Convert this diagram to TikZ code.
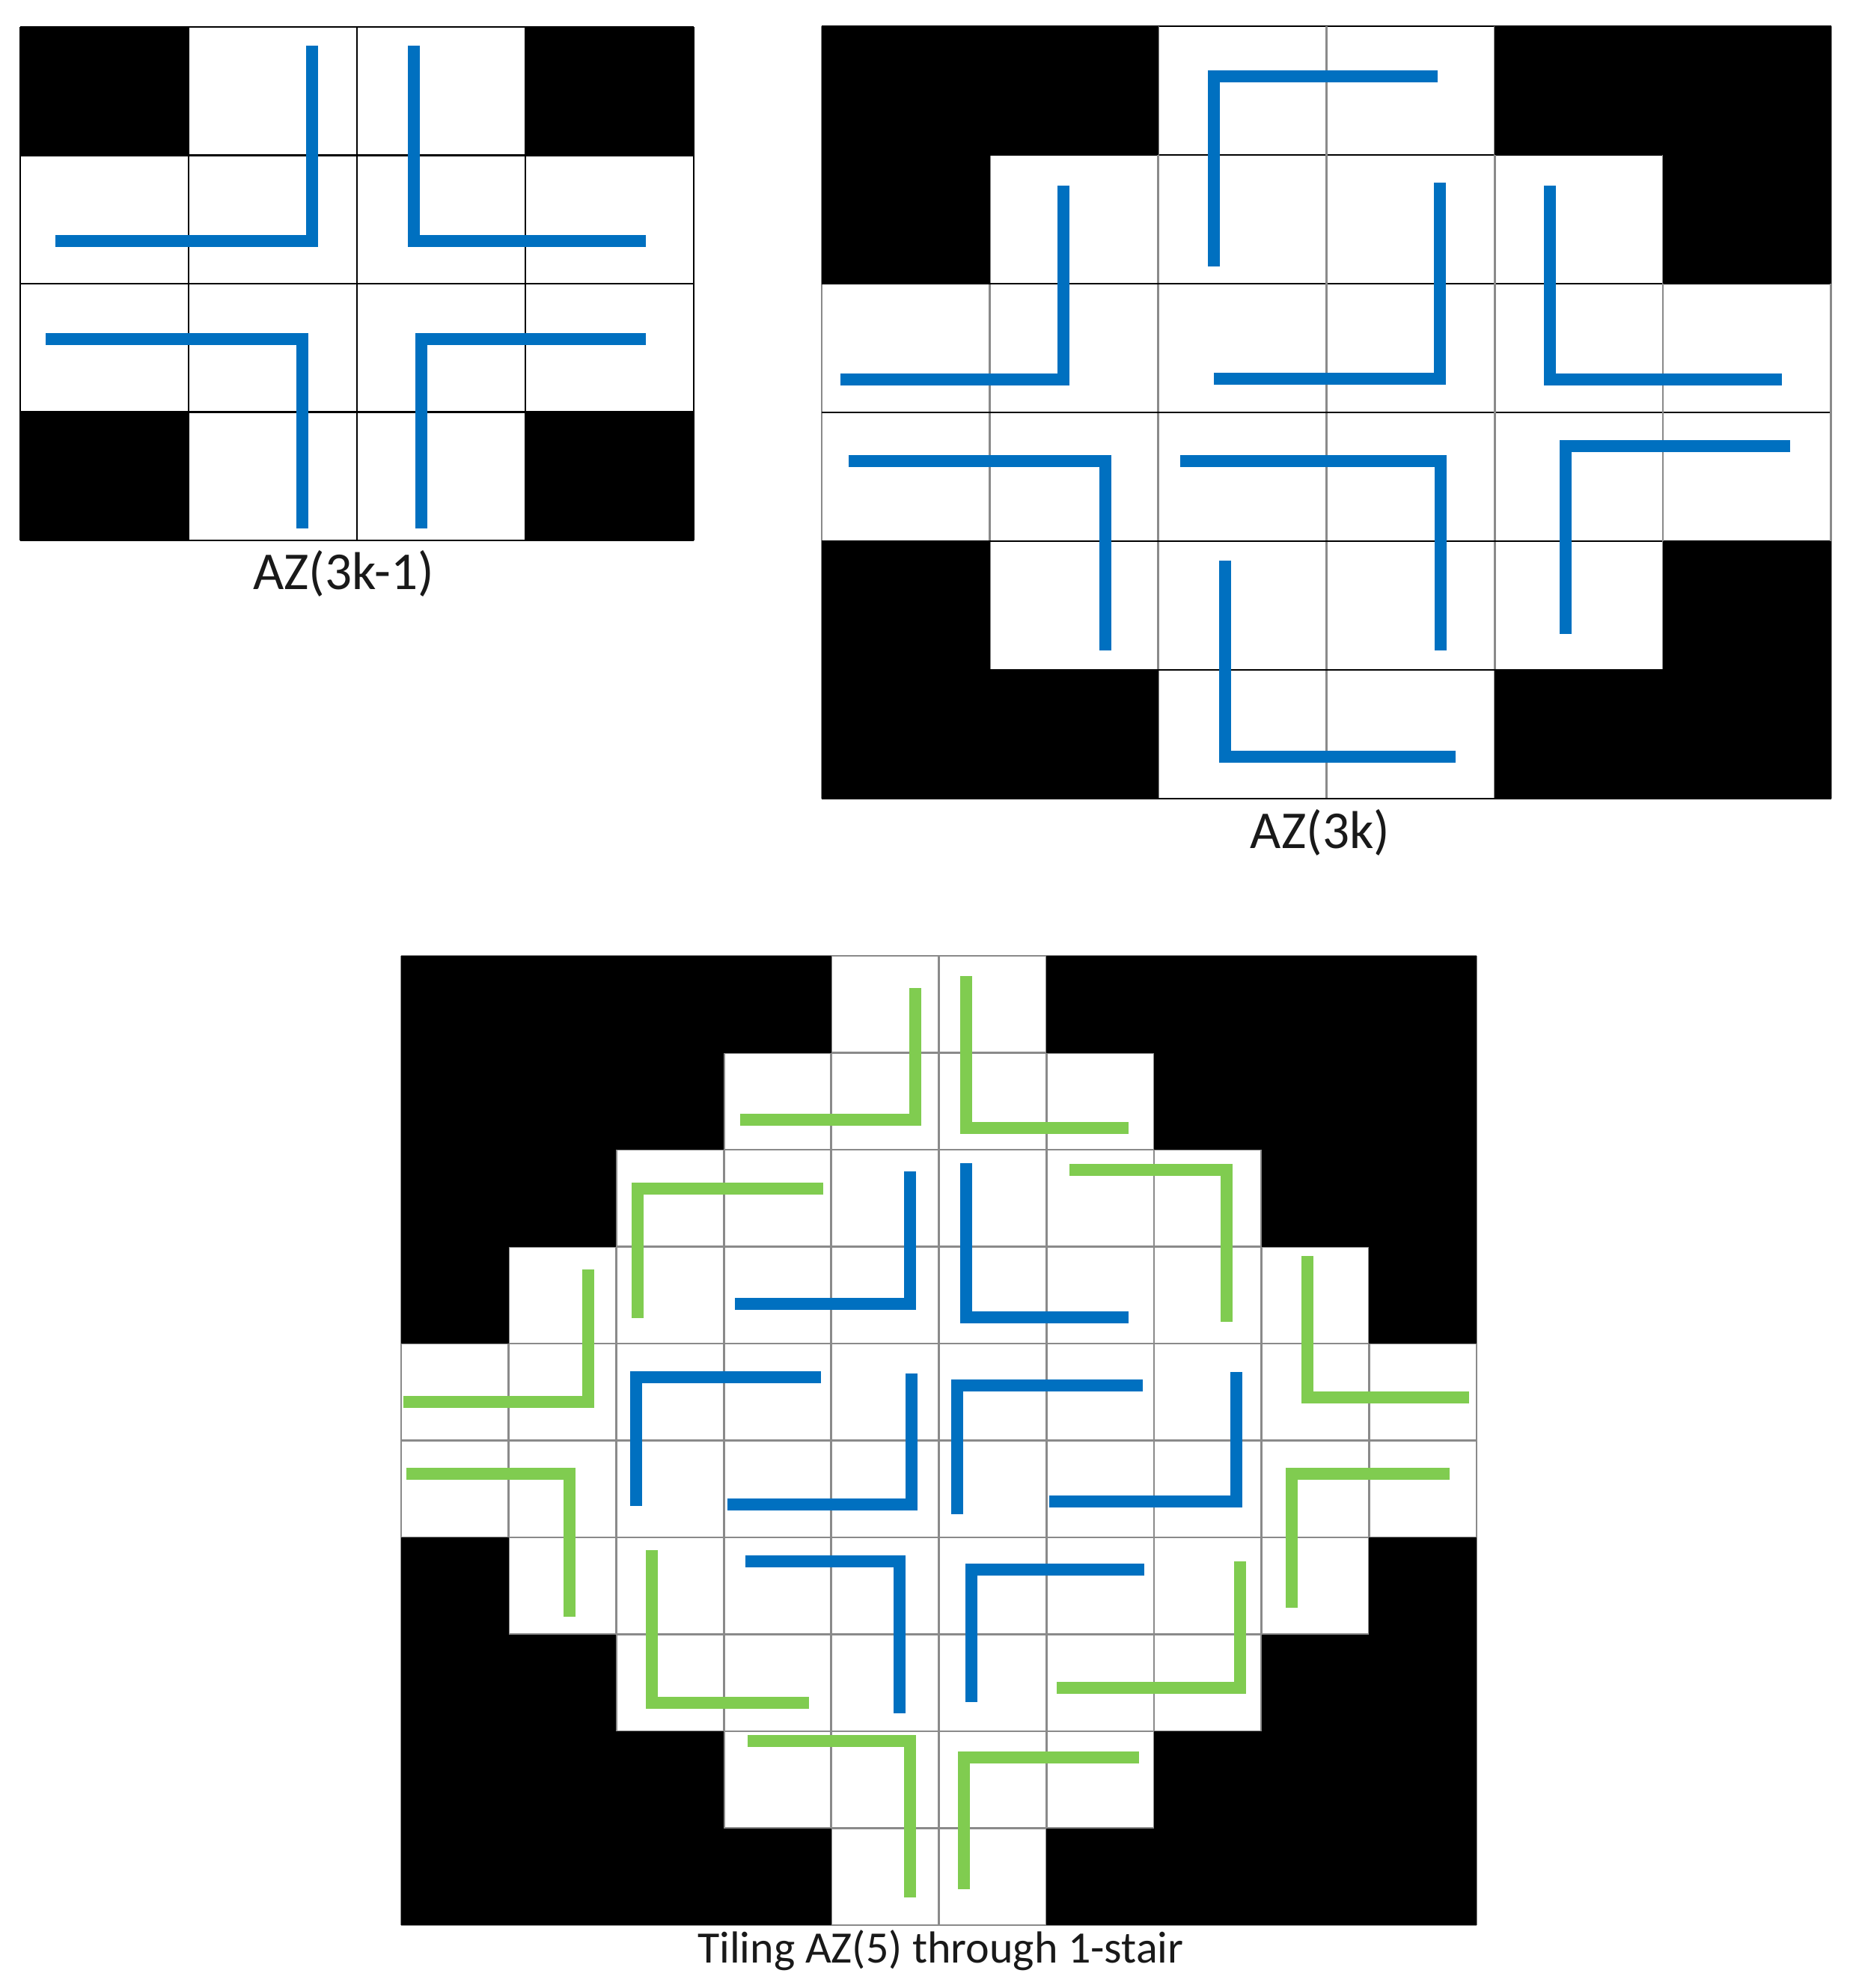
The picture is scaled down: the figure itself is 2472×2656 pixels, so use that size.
\documentclass[tikz,border=0pt]{standalone}
\usepackage{fontspec}
\setmainfont{Carlito}
\definecolor{tblue}{HTML}{0070C0}
\definecolor{tgreen}{HTML}{80CC50}
\definecolor{gline}{HTML}{8A8A8A}
\begin{document}
\begin{tikzpicture}[x=0.25pt,y=-0.25pt,
  gridk/.style={line width=0.7pt,black},
  gridg/.style={line width=0.7pt,gline},
  bluepath/.style={line width=4.2pt,tblue,line join=miter,line cap=butt},
  greenpath/.style={line width=3.8pt,tgreen,line join=miter,line cap=butt},
  caption/.style={inner sep=0pt,text=black!90}]
\useasboundingbox (0,0) rectangle (2472,2656);
\fill[white] (0,0) rectangle (2472,2656);

% ---------- top-left grid AZ(3k-1) ----------
\foreach \i in {0,...,4} {
  \draw[gridk] ({27+225*\i},36) -- ({27+225*\i},722);
  \draw[gridk] (27,{36+171.5*\i}) -- (927,{36+171.5*\i});
}
\foreach \c/\r in {0/0,3/0,0/3,3/3}
  \fill[black] ({27+225*\c},{36+171.5*\r}) rectangle ({27+225*(\c+1)},{36+171.5*(\r+1)});

\draw[bluepath] (74,322) -- (417,322) -- (417,61);
\draw[bluepath] (553,61) -- (553,322) -- (863,322);
\draw[bluepath] (61,453) -- (404,453) -- (404,706);
\draw[bluepath] (863,453) -- (563,453) -- (563,706);
\node[caption,font=\fontsize{17.8}{20}\selectfont] (capA) at (459,766) {AZ(3k-1)};

% ---------- top-right grid AZ(3k) ----------
\foreach \i in {0,...,6} {
  \draw[gridg] ({1098+224.8*\i},35) -- ({1098+224.8*\i},1067);
  \draw[gridk] (1098,{35+172*\i}) -- (2447,{35+172*\i});
}
\foreach \c/\r in {0/0,1/0,4/0,5/0,0/1,5/1,0/4,5/4,0/5,1/5,4/5,5/5}
  \fill[black] ({1098+224.8*\c},{35+172*\r}) rectangle ({1098+224.8*(\c+1)},{35+172*(\r+1)});

\draw[bluepath] (1921,102) -- (1622,102) -- (1622,356);
\draw[bluepath] (1421,248) -- (1421,507) -- (1123,507);
\draw[bluepath] (1924,244) -- (1924,506) -- (1622,506);
\draw[bluepath] (2071,248) -- (2071,507) -- (2381,507);
\draw[bluepath] (1134,616) -- (1477,616) -- (1477,869);
\draw[bluepath] (1577,616) -- (1925,616) -- (1925,869);
\draw[bluepath] (2392,596) -- (2092,596) -- (2092,847);
\draw[bluepath] (1637,749) -- (1637,1011) -- (1945,1011);
\node[caption,font=\fontsize{17.8}{20}\selectfont] (capB) at (1764,1112) {AZ(3k)};

% ---------- bottom grid AZ(5) ----------
\foreach \i in {0,...,10} {
  \draw[gridg] ({536+143.7*\i},1277) -- ({536+143.7*\i},2572);
  \draw[gridg] (536,{1277+129.5*\i}) -- (1973,{1277+129.5*\i});
}
\foreach \r/\a in {0/4,1/3,2/2,3/1,6/1,7/2,8/3,9/4} {
  \fill[black] (536,{1277+129.5*\r}) rectangle ({536+143.7*\a},{1277+129.5*(\r+1)});
  \fill[black] ({536+143.7*(10-\a)},{1277+129.5*\r}) rectangle (1973,{1277+129.5*(\r+1)});
}

% green
\draw[greenpath] (1223,1320) -- (1223,1496) -- (989,1496);
\draw[greenpath] (1291,1304) -- (1291,1507) -- (1508,1507);
\draw[greenpath] (1100,1588) -- (852,1588) -- (852,1761);
\draw[greenpath] (1429,1563) -- (1639,1563) -- (1639,1766);
\draw[greenpath] (786,1696) -- (786,1873) -- (539,1873);
\draw[greenpath] (1747,1678) -- (1747,1867) -- (1963,1867);
\draw[greenpath] (543,1969) -- (761,1969) -- (761,2160);
\draw[greenpath] (1937,1969) -- (1726,1969) -- (1726,2148);
\draw[greenpath] (871,2071) -- (871,2275) -- (1081,2275);
\draw[greenpath] (1657,2086) -- (1657,2255) -- (1412,2255);
\draw[greenpath] (999,2326) -- (1216,2326) -- (1216,2535);
\draw[greenpath] (1522,2348) -- (1288,2348) -- (1288,2524);
% blue
\draw[bluepath] (1216,1565) -- (1216,1742) -- (982,1742);
\draw[bluepath] (1291,1554) -- (1291,1760) -- (1508,1760);
\draw[bluepath] (1097,1840) -- (850,1840) -- (850,2012);
\draw[bluepath] (1218,1835) -- (1218,2010) -- (972,2010);
\draw[bluepath] (1527,1851) -- (1279,1851) -- (1279,2023);
\draw[bluepath] (1652,1833) -- (1652,2006) -- (1402,2006);
\draw[bluepath] (996,2086) -- (1202,2086) -- (1202,2289);
\draw[bluepath] (1529,2097) -- (1298,2097) -- (1298,2274);
\node[caption,font=\fontsize{15}{18}\selectfont] (capC) at (1257,2606) {Tiling AZ(5) through 1-stair};
\end{tikzpicture}
\end{document}
